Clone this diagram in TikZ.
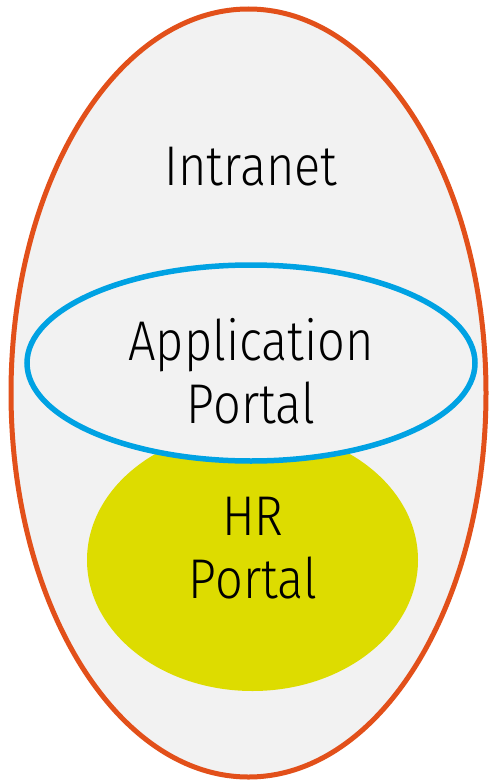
\documentclass[tikz,border=0pt]{standalone}
\usepackage{fontspec}
\setmainfont{Fira Sans}[UprightFont={* Light},FakeStretch=0.87]
\definecolor{bgray}{HTML}{F2F2F2}
\definecolor{orng}{HTML}{E2501A}
\definecolor{blu}{HTML}{00A2E3}
\definecolor{yel}{HTML}{DDDC00}
\tikzset{lbl/.style={align=center,font=\fontsize{56}{63}\selectfont,text=black,inner sep=0pt}}
\begin{document}
\begin{tikzpicture}[x=1pt,y=-1pt]
\useasboundingbox (0,0) rectangle (488,781);
\fill[white] (0,0) rectangle (488,781);
\draw[orng,line width=5pt,fill=bgray] (248.5,393) ellipse [x radius=237.5,y radius=384];
\fill[yel] (252.5,560) ellipse [x radius=165.5,y radius=131];
\draw[blu,line width=5.5pt,fill=bgray] (251,363) ellipse [x radius=224,y radius=98];
\node[lbl] (intranet) at (251,167) {Intranet};
\node[lbl] (app) at (251,371) {Application\\Portal};
\node[lbl] (hr) at (253,548) {HR\\Portal};
\end{tikzpicture}
\end{document}
